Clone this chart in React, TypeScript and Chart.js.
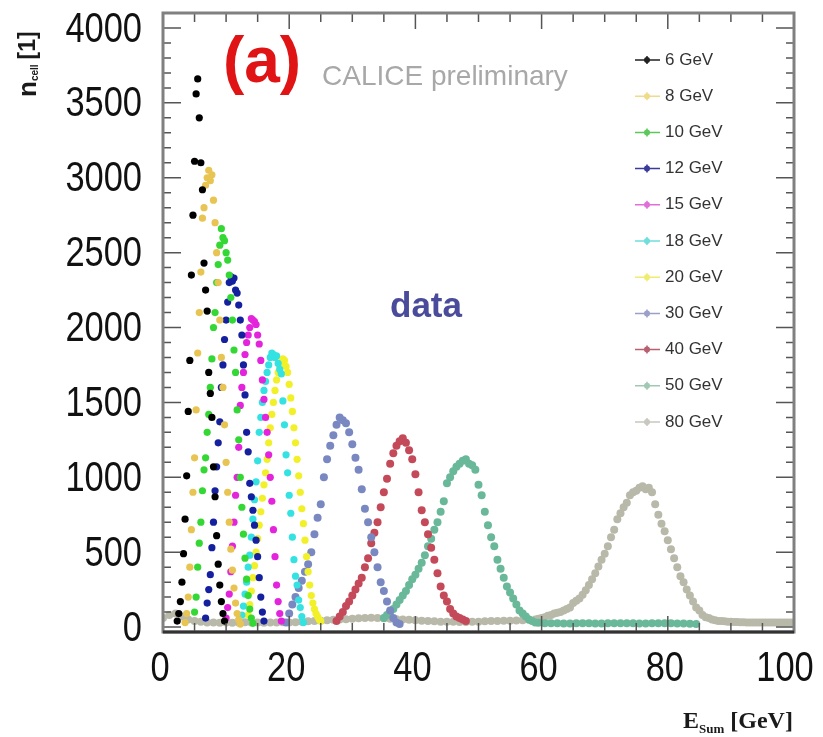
import React, { useEffect, useRef } from 'react';
import { Chart, registerables } from 'chart.js';

Chart.register(...registerables);

// ---- data ----
const legendLabels = ['6 GeV', '8 GeV', '10 GeV', '12 GeV', '15 GeV', '18 GeV', '20 GeV', '30 GeV', '40 GeV', '50 GeV', '80 GeV'];
const seriesColors = ['#000000', '#e8c452', '#34d834', '#14209e', '#e424dc', '#34e2e2', '#f2f028', '#7a88c2', '#c44a5a', '#6ab89a', '#b9b9aa'];
const legendColors = ['#222222', '#eedc8a', '#5cc85c', '#3a3a9a', '#e070d8', '#70dede', '#f0ec70', '#9aa0c8', '#b86070', '#a0c8b4', '#c8c8c0'];

const binStarts = [2.25, 3.5, 5.0, 6.75, 10.0, 12.5, 13.5, 19.5, 27.5, 35.0, 59.0];
const binSteps = [0.25, 0.25, 0.25, 0.25, 0.25, 0.25, 0.25, 0.5, 0.5, 0.5, 0.5];

const counts6 = [40, 90, 170, 300, 490, 720, 1010, 1440, 1780, 2350, 2750, 3110, 3560, 3660, 3400, 3100, 2920, 2430, 2250, 2110, 1700, 1560, 1400, 1070, 870, 610, 420, 280, 170, 90, 40];
const counts8 = [30, 90, 200, 400, 650, 900, 1130, 1450, 1830, 2100, 2370, 2730, 2800, 2950, 3000, 3050, 2980, 3020, 2850, 2700, 2500, 2300, 2050, 1800, 1600, 1350, 1100, 900, 700, 520, 380, 260, 160, 90, 50, 20];
const counts10 = [100, 200, 400, 560, 700, 910, 1050, 1130, 1300, 1420, 1600, 1790, 2000, 2100, 2300, 2420, 2550, 2660, 2600, 2580, 2500, 2450, 2350, 2200, 2050, 1850, 1700, 1450, 1250, 1000, 800, 620, 460, 320, 210, 120, 60, 25];
const counts12 = [60, 160, 250, 350, 530, 700, 910, 1070, 1230, 1370, 1600, 1750, 1920, 2050, 2170, 2300, 2340, 2310, 2330, 2250, 2230, 2150, 2050, 1950, 1750, 1550, 1300, 1170, 960, 870, 780, 680, 580, 470, 330, 200, 100, 40];
const counts15 = [60, 130, 220, 370, 540, 700, 880, 1000, 1200, 1480, 1600, 1700, 1820, 1900, 1950, 2000, 2060, 2050, 2040, 2020, 1950, 1890, 1780, 1650, 1520, 1400, 1300, 1150, 1000, 840, 650, 470, 280, 170, 90, 40];
const counts18 = [80, 140, 220, 300, 400, 480, 600, 720, 850, 970, 1110, 1300, 1400, 1500, 1580, 1640, 1700, 1750, 1800, 1830, 1820, 1800, 1810, 1760, 1720, 1690, 1510, 1350, 1150, 1030, 880, 760, 600, 450, 340, 280, 180, 130, 70, 30];
const counts20 = [80, 150, 240, 330, 410, 500, 590, 680, 770, 860, 950, 1030, 1120, 1230, 1330, 1420, 1500, 1580, 1650, 1700, 1740, 1770, 1790, 1780, 1740, 1700, 1620, 1530, 1440, 1330, 1230, 1120, 1010, 900, 790, 690, 580, 470, 370, 280, 210, 160, 120, 90, 70, 50, 40];
const counts30 = [30, 90, 150, 200, 260, 310, 370, 420, 500, 620, 730, 820, 1000, 1120, 1210, 1280, 1350, 1400, 1380, 1360, 1300, 1220, 1130, 1050, 920, 790, 700, 600, 500, 400, 300, 240, 170, 110, 60, 30, 20];
const counts40 = [40, 70, 100, 140, 170, 210, 250, 290, 330, 400, 460, 560, 630, 700, 800, 900, 990, 1090, 1160, 1210, 1240, 1260, 1230, 1180, 1120, 1020, 900, 780, 700, 620, 530, 450, 360, 270, 210, 170, 120, 90, 70, 60, 50, 40];
const counts50 = [60, 80, 100, 120, 150, 180, 210, 240, 280, 320, 350, 390, 430, 480, 540, 590, 650, 700, 770, 840, 960, 1000, 1040, 1070, 1090, 1110, 1120, 1090, 1080, 1050, 950, 880, 770, 680, 600, 540, 450, 390, 330, 270, 230, 190, 150, 110, 90, 70, 50, 40, 30];
const counts80 = [50, 55, 60, 65, 75, 80, 90, 95, 100, 110, 120, 130, 160, 175, 190, 215, 245, 280, 320, 360, 405, 450, 490, 540, 600, 650, 720, 760, 800, 830, 880, 900, 910, 930, 940, 920, 930, 900, 820, 750, 690, 640, 580, 520, 460, 400, 340, 300, 250, 210, 170, 130, 110, 80, 65, 60, 50, 45, 40];

// low-level tails
const tail50Start = 59.5;
const tail50 = [28, 26, 25, 25, 24, 24, 25, 26, 25, 24, 24, 25, 25, 26, 26, 25, 24, 24, 25, 25, 26, 25, 24, 24, 22, 20];
const base80Start = 0;
const base80 = [60, 80, 90, 70, 50, 40, 35, 30, 30, 28, 30, 28, 30, 32, 30, 30, 28, 30, 30, 32, 30, 32, 35, 38, 40, 42, 45, 48, 50, 52, 55, 58, 60, 62, 60, 58, 55, 52, 50, 48, 45, 42, 40, 38, 36, 35, 35, 34, 34, 35, 36, 38, 40, 40, 42, 42, 44, 46, 48];
const tail80Start = 88.5;
const tail80 = [40, 38, 36, 35, 34, 33, 32, 32, 31, 30, 30, 30, 30, 30, 30, 30, 30, 30, 30, 30, 30, 30, 30, 30];

const allCounts = [counts6, counts8, counts10, counts12, counts15, counts18, counts20, counts30, counts40, counts50, counts80];

const xTicks = [0, 20, 40, 60, 80, 100];
const yTicks = [0, 500, 1000, 1500, 2000, 2500, 3000, 3500, 4000];

function toPoints(start: number, step: number, vals: number[]) {
  return vals.map((y, i) => ({ x: start + i * step, y }));
}

const LABEL_FONT = '42px "Liberation Sans", Arial, sans-serif';
const NARROW = 0.82;

const decorPlugin = {
  id: 'decor',
  afterDraw(chart: any) {
    const ctx = chart.ctx;
    const { left, right, top, bottom } = chart.chartArea;
    const xs = chart.scales.x;
    const ys = chart.scales.y;
    ctx.save();
    // inner ticks
    ctx.strokeStyle = '#555';
    ctx.lineWidth = 1.5;
    for (let v = 0; v <= 4000; v += 100) {
      const py = ys.getPixelForValue(v);
      const len = v % 500 === 0 ? 18 : 8;
      ctx.beginPath();
      ctx.moveTo(left, py); ctx.lineTo(left + len, py);
      ctx.moveTo(right, py); ctx.lineTo(right - len, py);
      ctx.stroke();
    }
    for (let v = 0; v <= 100; v += 5) {
      const px = xs.getPixelForValue(v);
      const len = v % 20 === 0 ? 16 : 9;
      ctx.beginPath();
      ctx.moveTo(px, top); ctx.lineTo(px, top + len);
      ctx.moveTo(px, bottom); ctx.lineTo(px, bottom - len);
      ctx.stroke();
    }
    // frame
    ctx.strokeStyle = '#808080';
    ctx.lineWidth = 3;
    ctx.strokeRect(left, top, right - left, bottom - top);
    ctx.strokeStyle = '#333';
    ctx.beginPath();
    ctx.moveTo(left, bottom); ctx.lineTo(right, bottom);
    ctx.stroke();

    // tick labels (condensed)
    ctx.fillStyle = '#111';
    ctx.font = LABEL_FONT;
    ctx.textBaseline = 'middle';
    yTicks.forEach((v) => {
      const py = ys.getPixelForValue(v);
      ctx.save();
      ctx.translate(142, py + 2);
      ctx.scale(NARROW, 1);
      ctx.textAlign = 'right';
      ctx.fillText(String(v), 0, 0);
      ctx.restore();
    });
    xTicks.forEach((v) => {
      const px = xs.getPixelForValue(v);
      ctx.save();
      ctx.translate(px - (v === 100 ? 9 : 3), 669);
      ctx.scale(NARROW, 1);
      ctx.textAlign = 'center';
      ctx.fillText(String(v), 0, 0);
      ctx.restore();
    });

    // texts
    ctx.fillStyle = '#e01414';
    ctx.font = 'bold 64px "Liberation Sans", Arial, sans-serif';
    ctx.textAlign = 'center';
    ctx.textBaseline = 'middle';
    ctx.fillText('(a)', 262, 64);

    ctx.fillStyle = '#a8a8a8';
    ctx.font = '28px "Liberation Sans", Arial, sans-serif';
    ctx.textAlign = 'left';
    ctx.fillText('CALICE preliminary', 322, 77);

    ctx.fillStyle = '#4b4b9b';
    ctx.font = 'bold 35px "Liberation Sans", Arial, sans-serif';
    ctx.textAlign = 'center';
    ctx.fillText('data', 426, 307);

    // legend
    chart.data.datasets.forEach((ds: any, i: number) => {
      const y = 60 + i * 36.2;
      ctx.strokeStyle = legendColors[i];
      ctx.lineWidth = 1.5;
      ctx.beginPath();
      ctx.moveTo(635, y); ctx.lineTo(660, y);
      ctx.moveTo(647, y - 4); ctx.lineTo(647, y + 4);
      ctx.stroke();
      ctx.fillStyle = legendColors[i];
      ctx.beginPath();
      ctx.arc(647, y, 3, 0, Math.PI * 2);
      ctx.fill();
      ctx.fillStyle = '#333';
      ctx.font = '17px "Liberation Sans", Arial, sans-serif';
      ctx.textAlign = 'left';
      ctx.textBaseline = 'middle';
      ctx.fillText(ds.label, 665, y);
    });

    // y title (rotated)
    ctx.save();
    ctx.translate(29, 97);
    ctx.rotate(-Math.PI / 2);
    ctx.fillStyle = '#1a1a1a';
    ctx.textAlign = 'left';
    ctx.textBaseline = 'middle';
    ctx.font = 'bold 26px "Liberation Sans", Arial, sans-serif';
    ctx.fillText('n', 0, 0);
    let w = ctx.measureText('n').width;
    ctx.font = 'bold 10px "Liberation Sans", Arial, sans-serif';
    ctx.fillText('cell', w, 6);
    w += ctx.measureText('cell').width + 5;
    ctx.font = 'bold 23px "Liberation Sans", Arial, sans-serif';
    ctx.fillText('[1]', w, 0);
    ctx.restore();

    // x title
    ctx.fillStyle = '#1a1a1a';
    ctx.textAlign = 'left';
    ctx.textBaseline = 'alphabetic';
    ctx.font = 'bold 24px "Liberation Serif", "Times New Roman", serif';
    ctx.fillText('E', 683, 728);
    let xw = 683 + ctx.measureText('E').width;
    ctx.font = 'bold 13px "Liberation Serif", "Times New Roman", serif';
    ctx.fillText('Sum', xw, 733);
    xw += ctx.measureText('Sum').width;
    ctx.font = 'bold 24px "Liberation Serif", "Times New Roman", serif';
    ctx.fillText(' [GeV]', xw, 728);
    ctx.restore();
  },
};

export default function App() {
  const ref = useRef<HTMLCanvasElement | null>(null);
  useEffect(() => {
    if (!ref.current) return;
    const datasets = allCounts.map((vals, i) => {
      let pts = toPoints(binStarts[i], binSteps[i], vals);
      if (i === 9) pts = pts.concat(toPoints(tail50Start, 1, tail50));
      if (i === 10) pts = toPoints(base80Start, 1, base80).concat(pts, toPoints(tail80Start, 0.5, tail80));
      const r = i >= 7 ? 4 : 3.6;
      return {
        label: legendLabels[i],
        data: pts,
        showLine: false,
        pointRadius: r,
        pointHoverRadius: r,
        pointBorderWidth: 0,
        backgroundColor: seriesColors[i],
        borderColor: seriesColors[i],
      };
    });
    const chart = new Chart(ref.current, {
      type: 'scatter',
      data: { datasets },
      options: {
        responsive: false,
        animation: false,
        layout: { padding: { left: 0, top: 13, right: 29, bottom: 0 } },
        plugins: { legend: { display: false }, tooltip: { enabled: false } },
        scales: {
          x: {
            type: 'linear',
            min: 0,
            max: 100,
            grid: { display: false, drawTicks: false },
            border: { display: false },
            afterBuildTicks: (s: any) => { s.ticks = xTicks.map((v) => ({ value: v })); },
            afterFit: (s: any) => { s.height = 105; s.paddingLeft = 0; s.paddingRight = 0; },
            ticks: { display: false },
          },
          y: {
            type: 'linear',
            min: -33,
            max: 4100,
            grid: { display: false, drawTicks: false },
            border: { display: false },
            afterBuildTicks: (s: any) => { s.ticks = yTicks.map((v) => ({ value: v })); },
            afterFit: (s: any) => { s.width = 163; s.paddingTop = 0; s.paddingBottom = 0; },
            ticks: { display: false },
          },
        },
      },
      plugins: [decorPlugin],
    });
    return () => chart.destroy();
  }, []);
  return (
    <div style={{ position: 'absolute', left: 0, top: 0, width: 823, height: 737, background: '#fff' }}>
      <canvas ref={ref} width={823} height={737} style={{ width: 823, height: 737 }} />
    </div>
  );
}
